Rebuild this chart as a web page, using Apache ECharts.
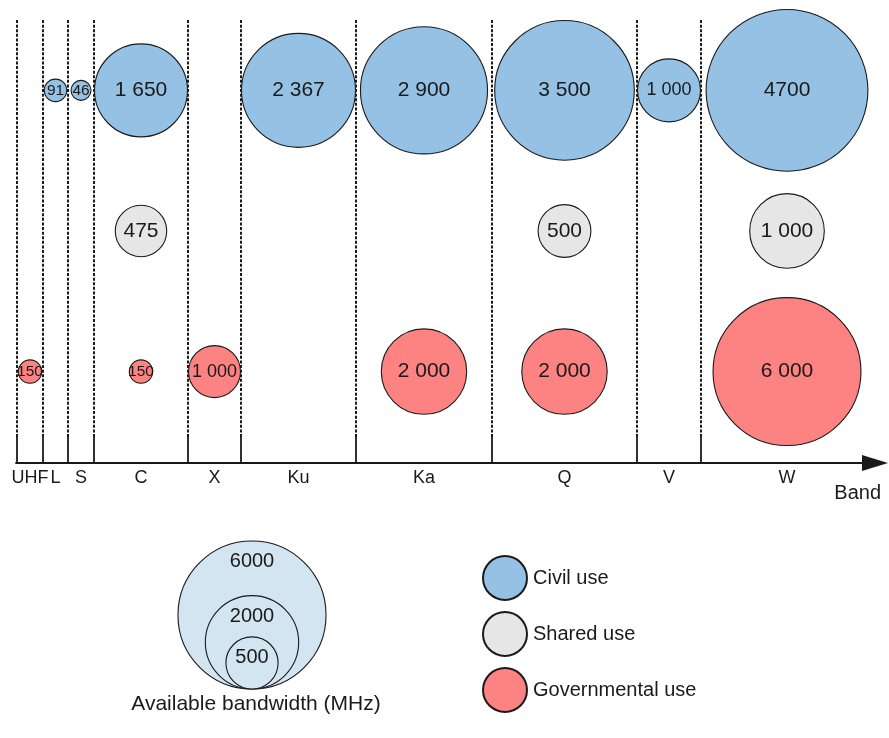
<!DOCTYPE html>
<html>
<head>
<meta charset="utf-8">
<script src="https://cdn.jsdelivr.net/npm/echarts@6/dist/echarts.min.js"></script>
<style>
  html, body { margin: 0; padding: 0; background: #fff; }
  #chart { width: 889px; height: 738px; }
</style>
</head>
<body>
<div id="chart"></div>
<script>
// Frequency bands along the horizontal axis (schematic, not to scale)
const bands = ['UHF', 'L', 'S', 'C', 'X', 'Ku', 'Ka', 'Q', 'V', 'W'];
// Band boundaries in axis units
const bandEdges = [1, 27, 52, 78, 172, 225, 340, 476, 621, 685, 857];

// Available bandwidth (MHz) per band; null = no allocation
const civilUse  = [null, 91, 46, 1650, null, 2367, 2900, 3500, 1000, 4700];
const civilText = [null, '91', '46', '1 650', null, '2 367', '2 900', '3 500', '1 000', '4700'];
const sharedUse  = [null, null, null, 475, null, null, null, 500, null, 1000];
const sharedText = [null, null, null, '475', null, null, null, '500', null, '1 000'];
const govUse  = [150, null, null, 150, 1000, null, 2000, 2000, null, 6000];
const govText = ['150', null, null, '150', '1 000', null, '2 000', '2 000', null, '6 000'];

// Size key
const keyValues = [6000, 2000, 500];

const FONT = "'Liberation Sans', Arial, Helvetica, sans-serif";
const INK = '#1a1a1a';
const COLORS = { civil: '#95c1e5', shared: '#e6e6e7', gov: '#fd8282', key: '#d4e5f2' };

const chart = echarts.init(document.getElementById('chart'), null, { renderer: 'canvas' });

const bandCenter = i => (bandEdges[i] + bandEdges[i + 1]) / 2;

// Bubble radius: area ~ bandwidth, kept inside its band
function radius(v, k, i) {
  const half = (bandEdges[i + 1] - bandEdges[i]) / 2;
  return Math.max(10, Math.min(k * Math.sqrt(v), half - 0.5));
}
function labelSize(r, text) {
  if (r < 15) return 15.5;
  if (text.length >= 5 && r < 35) return 18;
  return 21;
}

function bubbleSeries(name, values, texts, level, k, color) {
  const data = [];
  values.forEach((v, i) => {
    if (v == null) return;
    const r = radius(v, k, i);
    data.push({
      value: [bandCenter(i), level, v, i],
      symbolSize: 2 * r,
      label: { formatter: texts[i], fontSize: labelSize(r, texts[i]) }
    });
  });
  return {
    name, type: 'scatter', data, z: 5,
    itemStyle: { color, borderColor: INK, borderWidth: 1.1, opacity: 1 },
    label: { show: true, position: 'inside', color: INK, fontFamily: FONT },
    emphasis: { disabled: true },
    silent: true
  };
}

const Y_MIN = 0.35, Y_MAX = 3.6, LINE_TOP = 3.5;

// Band boundaries: dashed guide plus a solid tick at the axis
const boundarySeries = {
  type: 'custom', silent: true, z: 2, clip: false,
  data: bandEdges.slice(0, -1).map(e => [e]),
  renderItem(params, api) {
    const top = api.coord([api.value(0), LINE_TOP]);
    const base = api.coord([api.value(0), Y_MIN]);
    const tickTop = base[1] - 26;
    return {
      type: 'group',
      children: [
        { type: 'line', shape: { x1: top[0], y1: top[1], x2: top[0], y2: tickTop },
          style: { stroke: INK, lineWidth: 2, lineDash: [3, 1.6] } },
        { type: 'line', shape: { x1: base[0], y1: tickTop, x2: base[0], y2: base[1] },
          style: { stroke: INK, lineWidth: 1.8 } }
      ]
    };
  }
};

// Band names under the axis
const bandLabelSeries = {
  type: 'custom', silent: true, z: 3, clip: false,
  data: bands.map((b, i) => [bandCenter(i), i]),
  renderItem(params, api) {
    const p = api.coord([api.value(0), Y_MIN]);
    return {
      type: 'text', x: p[0], y: p[1] + 15,
      style: { text: bands[api.value(1)], fill: INK, font: `18px ${FONT}`,
               align: 'center', verticalAlign: 'middle' }
    };
  }
};

// Bandwidth size key (nested circles, bottom-aligned)
const keyCx = 252, keyBottom = 689;
const keyRadius = v => 1.917 * Math.pow(v, 0.42);
const keyGraphics = [];
keyValues.forEach(v => {
  const r = keyRadius(v);
  keyGraphics.push({
    type: 'circle', shape: { cx: keyCx, cy: keyBottom - r, r },
    style: { fill: COLORS.key, stroke: INK, lineWidth: 1.1 }, silent: true
  });
});
keyValues.forEach(v => {
  const r = keyRadius(v);
  keyGraphics.push({
    type: 'text', x: keyCx, y: keyBottom - 2 * r + Math.min(r, 21),
    style: { text: String(v), fill: INK, font: `20px ${FONT}`, align: 'center', verticalAlign: 'middle' },
    silent: true
  });
});
keyGraphics.push({
  type: 'text', x: 256, y: 704,
  style: { text: 'Available bandwidth (MHz)', fill: INK, font: `21px ${FONT}`,
           align: 'center', verticalAlign: 'middle' },
  silent: true
});

chart.setOption({
  animation: false,
  backgroundColor: '#fff',
  textStyle: { fontFamily: FONT },
  grid: { left: 16, right: 14, top: 6, bottom: 275 },
  xAxis: {
    type: 'value', min: 0, max: 859,
    axisLine: { show: true, lineStyle: { color: INK, width: 1.8 },
                symbol: ['none', 'triangle'], symbolSize: [16, 26], symbolOffset: [0, 0] },
    axisTick: { show: false }, axisLabel: { show: false }, splitLine: { show: false },
    name: 'Band', nameLocation: 'end', nameGap: 6,
    nameTextStyle: { color: INK, fontSize: 20, fontFamily: FONT, align: 'right',
                     verticalAlign: 'top', padding: [20, 0, 0, 0] }
  },
  yAxis: { type: 'value', min: Y_MIN, max: Y_MAX, show: false },
  legend: {
    orient: 'vertical', left: 477, top: 550,
    itemWidth: 44, itemHeight: 44, itemGap: 10, icon: 'circle',
    selectedMode: false,
    textStyle: { fontSize: 20, color: INK, fontFamily: FONT, padding: [0, 0, 0, 1] },
    data: ['Civil use', 'Shared use', 'Governmental use']
  },
  graphic: keyGraphics,
  series: [
    boundarySeries,
    bandLabelSeries,
    bubbleSeries('Civil use', civilUse, civilText, 3, 1.18, COLORS.civil),
    bubbleSeries('Shared use', sharedUse, sharedText, 2, 1.18, COLORS.shared),
    bubbleSeries('Governmental use', govUse, govText, 1, 0.955, COLORS.gov)
  ]
});
</script>
</body>
</html>
